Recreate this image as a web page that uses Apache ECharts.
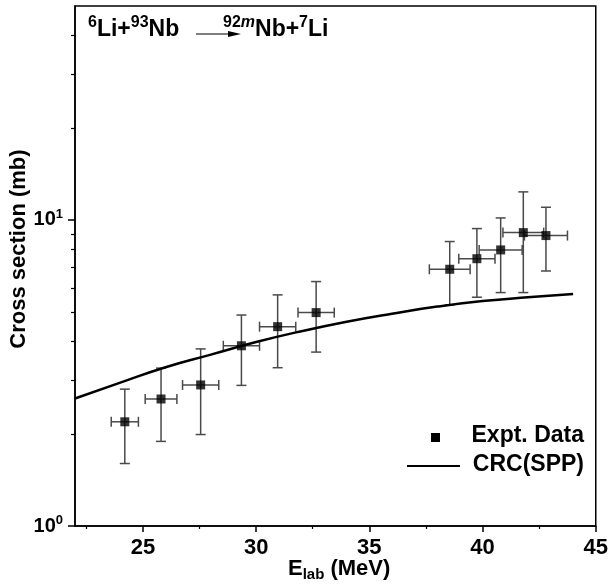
<!DOCTYPE html>
<html><head><meta charset="utf-8">
<script src="https://cdn.jsdelivr.net/npm/echarts@6/dist/echarts.min.js"></script>
<style>html,body{margin:0;padding:0;background:#fff}#c{width:611px;height:587px}</style>
</head><body><div id="c"></div>
<script>
// Experimental data
const energy = [24.2, 25.8, 27.55, 29.35, 30.95, 32.65, 38.55, 39.75, 40.8, 41.8, 42.8];
const crossSection = [2.19, 2.6, 2.89, 3.88, 4.48, 4.98, 6.9, 7.47, 7.98, 9.09, 8.89];
const errLow = [1.6, 1.89, 1.99, 2.88, 3.29, 3.70, 5.28, 5.59, 5.79, 5.79, 6.81];
const errHigh = [2.80, 3.28, 3.79, 4.89, 5.69, 6.29, 8.50, 9.37, 10.15, 12.35, 11.0];
const energyErr = [0.6, 0.7, 0.8, 0.8, 0.8, 0.8, 0.9, 0.8, 0.95, 0.9, 0.95];
// CRC(SPP) calculation
const crcEnergy = [22, 24, 26, 28, 30, 32, 34, 36, 38, 40, 42, 44];
const crcValue = [2.61, 2.94, 3.30, 3.63, 3.99, 4.33, 4.65, 4.94, 5.21, 5.43, 5.59, 5.73];
// Axis ticks
const xMajorTicks = [25, 30, 35, 40, 45];
const xMinorTicks = [22.5, 27.5, 32.5, 37.5, 42.5];
const yMajorTicks = [1, 10];
const yMinorTicks = [2, 3, 4, 5, 6, 7, 8, 9, 20, 30, 40];

const FONT = 'Liberation Sans, Arial, sans-serif';
const chart = echarts.init(document.getElementById('c'), null, {renderer: 'canvas'});

const errData = energy.map((x, i) => [x, crossSection[i], errLow[i], errHigh[i], energyErr[i]]);
const crcData = crcEnergy.map((x, i) => [x, crcValue[i]]);
const ptData = energy.map((x, i) => [x, crossSection[i]]);

const option = {
  animation: false,
  backgroundColor: '#fff',
  grid: {left: 75, right: 15, top: 6, bottom: 61, show: true, borderColor: '#000', borderWidth: 1.5, backgroundColor: 'transparent'},
  xAxis: [{
    type: 'value', min: 22, max: 45, position: 'bottom',
    axisLine: {show: true, lineStyle: {color: '#000', width: 1.5}},
    axisTick: {show: true, length: 6, customValues: xMajorTicks, lineStyle: {color: '#000', width: 1.5}},
    axisLabel: {show: true, customValues: xMajorTicks, margin: 11, color: '#000', fontSize: 22, fontWeight: 'bold', fontFamily: FONT},
    splitLine: {show: false}
  }, {
    type: 'value', min: 22, max: 45, position: 'bottom',
    axisLine: {show: false},
    axisTick: {show: true, length: 3, customValues: xMinorTicks, lineStyle: {color: '#000', width: 1.2}},
    axisLabel: {show: false},
    splitLine: {show: false}
  }],
  yAxis: [{
    type: 'log', logBase: 10, min: 1, max: 50, position: 'left',
    axisLine: {show: true, lineStyle: {color: '#000', width: 1.5}},
    axisTick: {show: true, length: 7, customValues: yMajorTicks, lineStyle: {color: '#000', width: 1.5}},
    axisLabel: {
      show: true, customValues: yMajorTicks, margin: 12, color: '#000', fontFamily: FONT,
      formatter: v => '{b|10}{s|' + Math.round(Math.log10(v)) + '}',
      rich: {
        b: {fontSize: 20, fontWeight: 'bold', fontFamily: FONT, color: '#000'},
        s: {fontSize: 13, fontWeight: 'bold', fontFamily: FONT, color: '#000', padding: [0, 0, 12, 0]}
      }
    },
    splitLine: {show: false}
  }, {
    type: 'log', logBase: 10, min: 1, max: 50, position: 'left',
    axisLine: {show: false},
    axisTick: {show: true, length: 4, customValues: yMinorTicks, lineStyle: {color: '#000', width: 1.2}},
    axisLabel: {show: false},
    splitLine: {show: false}
  }],
  series: [{
    type: 'custom', name: 'err', xAxisIndex: 0, yAxisIndex: 0, z: 2,
    data: errData,
    renderItem: function (params, api) {
      const x = api.value(0), y = api.value(1), lo = api.value(2), hi = api.value(3), xe = api.value(4);
      const pLo = api.coord([x, lo]), pHi = api.coord([x, hi]);
      const pL = api.coord([x - xe, y]), pR = api.coord([x + xe, y]);
      const cap = 5;
      const st = {stroke: '#4a4a4a', lineWidth: 1.5};
      const ln = (x1, y1, x2, y2) => ({type: 'line', shape: {x1, y1, x2, y2}, style: st});
      return {type: 'group', children: [
        ln(pLo[0], pLo[1], pHi[0], pHi[1]),
        ln(pLo[0] - cap, pLo[1], pLo[0] + cap, pLo[1]),
        ln(pHi[0] - cap, pHi[1], pHi[0] + cap, pHi[1]),
        ln(pL[0], pL[1], pR[0], pR[1]),
        ln(pL[0], pL[1] - cap, pL[0], pL[1] + cap),
        ln(pR[0], pR[1] - cap, pR[0], pR[1] + cap)
      ]};
    }
  }, {
    type: 'line', name: 'CRC(SPP)', data: crcData, smooth: true, showSymbol: false, z: 3,
    lineStyle: {color: '#000', width: 2.5}, itemStyle: {color: '#000'}
  }, {
    type: 'scatter', name: 'Expt. Data', data: ptData, symbol: 'rect', symbolSize: 9, z: 4,
    itemStyle: {color: '#000'}
  }],
  graphic: [
    // title
    {type: 'text', left: 88, top: 15, style: {
      text: '{s|6}{b|Li+}{s|93}{b|Nb}', fill: '#000',
      rich: {
        b: {fontSize: 23, fontWeight: 'bold', fontFamily: FONT, fill: '#000'},
        s: {fontSize: 16, fontWeight: 'bold', fontFamily: FONT, fill: '#000', padding: [0, 0, 14, 0]}
      }}},
    {type: 'line', shape: {x1: 196, y1: 34, x2: 234, y2: 34}, style: {stroke: '#000', lineWidth: 1}},
    {type: 'polygon', shape: {points: [[241, 34], [228, 31], [228, 37]]}, style: {fill: '#000'}},
    {type: 'text', left: 223, top: 15, style: {
      text: '{s|92}{si|m}{b|Nb+}{s|7}{b|Li}', fill: '#000',
      rich: {
        b: {fontSize: 23, fontWeight: 'bold', fontFamily: FONT, fill: '#000'},
        s: {fontSize: 16, fontWeight: 'bold', fontFamily: FONT, fill: '#000', padding: [0, 0, 14, 0]},
        si: {fontSize: 16, fontWeight: 'bold', fontStyle: 'italic', fontFamily: FONT, fill: '#000', padding: [0, 0, 14, 0]}
      }}},
    // axis names
    {type: 'text', x: 19, y: 249, rotation: Math.PI / 2, style: {
      text: 'Cross section (mb)', fontSize: 22, fontWeight: 'bold', fontFamily: FONT, fill: '#000',
      align: 'center', verticalAlign: 'middle'}},
    {type: 'text', left: 288, top: 558, style: {
      text: '{b|E}{sub|lab}{b| (MeV)}', fill: '#000',
      rich: {
        b: {fontSize: 22, fontWeight: 'bold', fontFamily: FONT, fill: '#000'},
        sub: {fontSize: 15, fontWeight: 'bold', fontFamily: FONT, fill: '#000', padding: [11, 0, 0, 0]}
      }}},
    // legend
    {type: 'rect', shape: {x: 431, y: 433, width: 9, height: 9}, style: {fill: '#000'}},
    {type: 'text', x: 584, y: 436, style: {text: 'Expt. Data', fontSize: 23, fontWeight: 'bold', fontFamily: FONT, fill: '#000', align: 'right', verticalAlign: 'middle'}},
    {type: 'line', shape: {x1: 407, y1: 466, x2: 460, y2: 466}, style: {stroke: '#000', lineWidth: 2}},
    {type: 'text', x: 584, y: 465, style: {text: 'CRC(SPP)', fontSize: 23, fontWeight: 'bold', fontFamily: FONT, fill: '#000', align: 'right', verticalAlign: 'middle'}}
  ]
};
chart.setOption(option);
</script>
</body></html>
